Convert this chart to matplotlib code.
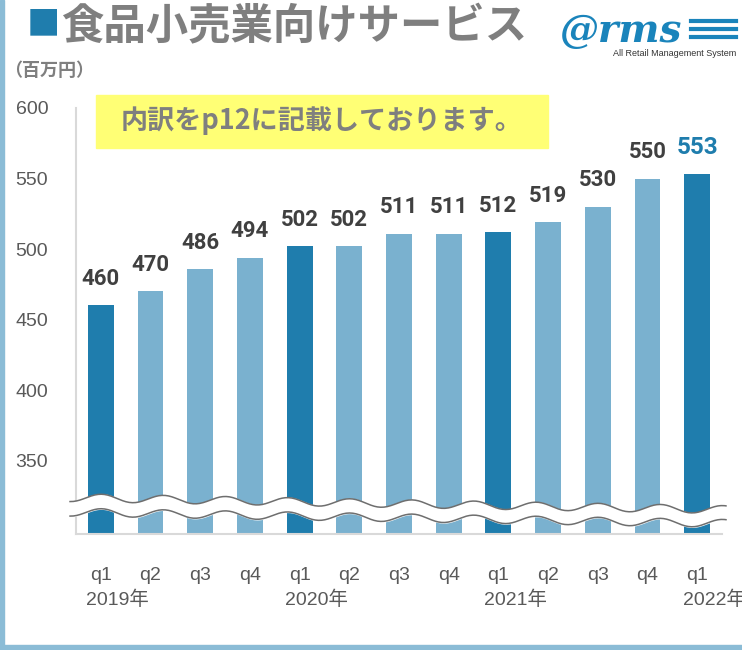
import numpy as np
import matplotlib.pyplot as plt
from matplotlib.patches import Rectangle
from matplotlib.lines import Line2D

# data
quarters = ["q1", "q2", "q3", "q4", "q1", "q2", "q3", "q4", "q1", "q2", "q3", "q4", "q1"]
values = [460, 470, 486, 494, 502, 502, 511, 511, 512, 519, 530, 550, 553]
years = ["2019年", "2020年", "2021年", "2022年"]
year_pos = [0, 4, 8, 12]

DARK = "#1F7DAD"
LIGHT = "#7AB1CF"
GRAY = "#595959"
TITLE_GRAY = "#7F7F7F"

plt.rcParams["font.family"] = ["Liberation Sans", "Noto Sans CJK JP"]

fig = plt.figure(figsize=(7.42, 6.5), dpi=100)
ax = fig.add_axes([76 / 742, 1 - 534 / 650, 646 / 742, 426 / 650])

x = np.arange(len(values))
colors = [DARK if q == "q1" else LIGHT for q in quarters]
ax.bar(x, values, width=0.52, color=colors, zorder=2)

ax.set_xlim(-0.5, 12.5)
ax.set_ylim(298, 600)
ax.set_yticks([350, 400, 450, 500, 550, 600])
ax.set_xticks(x)
ax.set_xticklabels(quarters)
ax.tick_params(axis="both", length=0, labelsize=14, labelcolor=GRAY)
ax.tick_params(axis="x", pad=24)
ax.tick_params(axis="y", pad=20)

for side in ["top", "right"]:
    ax.spines[side].set_visible(False)
for side in ["left", "bottom"]:
    ax.spines[side].set_color("#D9D9D9")
    ax.spines[side].set_linewidth(1.5)

# value labels
for i, v in enumerate(values):
    last = i == len(values) - 1
    ax.annotate(str(v), (i, v), xytext=(0, 11), textcoords="offset points",
                ha="center", va="bottom", fontsize=17.5 if last else 16,
                fontweight="bold", family=["Roboto", "DejaVu Sans"],
                color=DARK if last else "#404040")

# year labels under the q1 ticks
for p, yr in zip(year_pos, years):
    ax.text(p + 0.34, -0.155, yr, transform=ax.get_xaxis_transform(),
            ha="center", va="center", fontsize=14, color=GRAY, clip_on=False)

# axis break (wavy band)
xs = np.linspace(-0.62, 12.58, 400)
slope = (xs + 0.62) / 13.2
wave = 2.8 * np.sin(2 * np.pi * (xs + 0.3) / 1.25)
upper = 323.8 - 8.5 * slope + wave
lower = 313.5 - 8.0 * slope + wave
ax.fill_between(xs, lower, upper, color="white", zorder=3, clip_on=False)
ax.plot(xs, upper, color="#6E6E6E", lw=1.1, zorder=4, clip_on=False)
ax.plot(xs, lower, color="#6E6E6E", lw=1.1, zorder=4, clip_on=False)

# title
fig.text(27 / 742, 1 - 25 / 650, "■", fontsize=24, color=DARK,
         family="Noto Sans CJK JP", va="center", ha="left")
fig.text(61 / 742, 1 - 27 / 650, "食品小売業向けサービス", fontsize=30.5, color=TITLE_GRAY,
         fontweight="bold", family="Noto Sans CJK JP", va="center", ha="left")
fig.text(4 / 742, 1 - 71 / 650, "（百万円）", fontsize=13, color=TITLE_GRAY,
         fontweight="bold", family="Noto Sans CJK JP", va="center", ha="left")

# note box
fig.add_artist(Rectangle((96 / 742, 1 - 148 / 650), 452 / 742, 53 / 650,
                         transform=fig.transFigure, color="#FFFF75", zorder=5))
fig.text(322 / 742, 1 - 121 / 650, "内訳をp12に記載しております。", fontsize=19.5,
         color=TITLE_GRAY, fontweight="bold", family=["Noto Sans CJK JP"],
         va="center", ha="center", zorder=6)

# logo
LOGO = "#1A84BB"
fig.text(559 / 742, 1 - 42 / 650, "@rms", fontsize=28, color=LOGO, fontweight="bold",
         style="italic", family="DejaVu Serif", va="baseline", ha="left")
for yy in [21, 29, 37]:
    fig.add_artist(Line2D([691 / 742, 736 / 742], [1 - yy / 650, 1 - yy / 650],
                          color=LOGO, lw=3, transform=fig.transFigure))
fig.text(736 / 742, 1 - 53 / 650, "All Retail Management System", fontsize=6.5,
         color="#333333", va="center", ha="right")

# frame
fig.add_artist(Rectangle((0, 0), 4 / 742, 1, transform=fig.transFigure,
                         color="#8BBCD6", zorder=10))
fig.add_artist(Rectangle((0, 0), 1, 5 / 650, transform=fig.transFigure,
                         color="#8BBCD6", zorder=10))

fig.savefig("out.png", dpi=100)
